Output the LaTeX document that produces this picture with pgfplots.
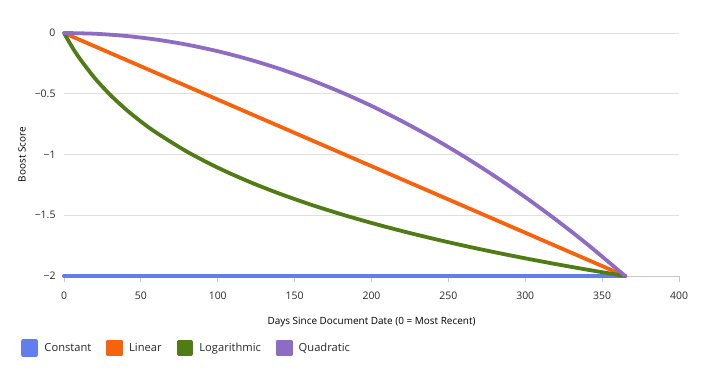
\documentclass[border=0pt]{standalone}
\usepackage{fontspec}
\setmainfont{Open Sans}
\usepackage{pgfplots}
\pgfplotsset{compat=1.18}
\definecolor{cblue}{RGB}{98,125,237}
\definecolor{corange}{RGB}{247,99,12}
\definecolor{cgreen}{RGB}{80,124,22}
\definecolor{cpurple}{RGB}{142,108,196}
\definecolor{gridgray}{RGB}{224,224,224}
\definecolor{axisgray}{RGB}{200,200,200}
\definecolor{labelgray}{RGB}{40,40,40}
\begin{document}
\begin{tikzpicture}
\useasboundingbox (-64bp,-96bp) rectangle (638bp,276bp);
\begin{axis}[
  scale only axis, width=615bp, height=243bp,
  at={(0,0)}, anchor=south west,
  xmin=0, xmax=400, ymin=-2, ymax=0,
  clip=false,
  xtick={0,50,100,150,200,250,300,350,400},
  ytick={-2,-1.5,-1,-0.5,0},
  yticklabels={−2,−1.5,−1,−0.5,0},
  axis x line=bottom, axis y line=left,
  x axis line style={-, draw=axisgray, line width=1bp},
  y axis line style={draw=none},
  tick align=outside, xtick pos=bottom,
  ytick style={draw=none},
  xtick style={draw=axisgray, line width=1bp},
  major tick length=6bp,
  ymajorgrids, grid style={gridgray, line width=1bp},
  /pgf/number format/assume math mode=true,
  tick label style={font=\fontsize{10.5}{12}\selectfont, text=labelgray},
  xticklabel style={yshift=-6.5bp},
  yticklabel style={xshift=1bp},
  xlabel={Days Since Document Date (0 = Most Recent)},
  ylabel={Boost Score},
  label style={font=\fontsize{10.5}{12}\selectfont, text=black},
  every axis x label/.style={at={(axis description cs:0.5,-0.1893)}, anchor=center},
  every axis y label/.style={at={(axis description cs:-0.0683,0.5)}, anchor=center, rotate=90},
  legend columns=-1,
  legend style={at={(axis description cs:-0.0748,-0.2963)}, anchor=west, draw=none, fill=none,
    font=\fontsize{11.2}{13}\selectfont, text=labelgray,
    /tikz/every odd column/.append style={column sep=4bp},
    /tikz/every even column/.append style={column sep=13bp}},
  legend image code/.code={\fill[#1] (0bp,-6.5bp) rectangle (13bp,6.5bp);},
  every axis plot/.append style={line width=3.8bp, line cap=round, line join=round},
]
\addplot[color=cblue, line width=4.3bp] coordinates {(0,-2) (365,-2)};
\addlegendentry{Constant}
\addplot[color=corange] coordinates {(0,0) (365,-2)};
\addlegendentry{Linear}
\addplot[color=cgreen, smooth] coordinates {
(0,0) (5,-0.1096) (10,-0.2063) (20,-0.3711) (30,-0.5082) (40,-0.6257) (50,-0.7285)
(60,-0.8198) (80,-0.9767) (100,-1.1083) (120,-1.2218) (140,-1.3214) (160,-1.4103)
(180,-1.4904) (200,-1.5634) (220,-1.6305) (240,-1.6925) (260,-1.7501) (280,-1.8040)
(300,-1.8545) (320,-1.9021) (340,-1.9471) (365,-2)};
\addlegendentry{Logarithmic}
\addplot[color=cpurple, smooth] coordinates {
(0,0) (20,-0.006) (40,-0.024) (60,-0.054) (80,-0.096) (100,-0.150) (120,-0.216)
(140,-0.294) (160,-0.384) (180,-0.486) (200,-0.600) (220,-0.727) (240,-0.865)
(260,-1.015) (280,-1.177) (300,-1.351) (320,-1.537) (340,-1.735) (365,-2)};
\addlegendentry{Quadratic}
\end{axis}
\end{tikzpicture}
\end{document}
